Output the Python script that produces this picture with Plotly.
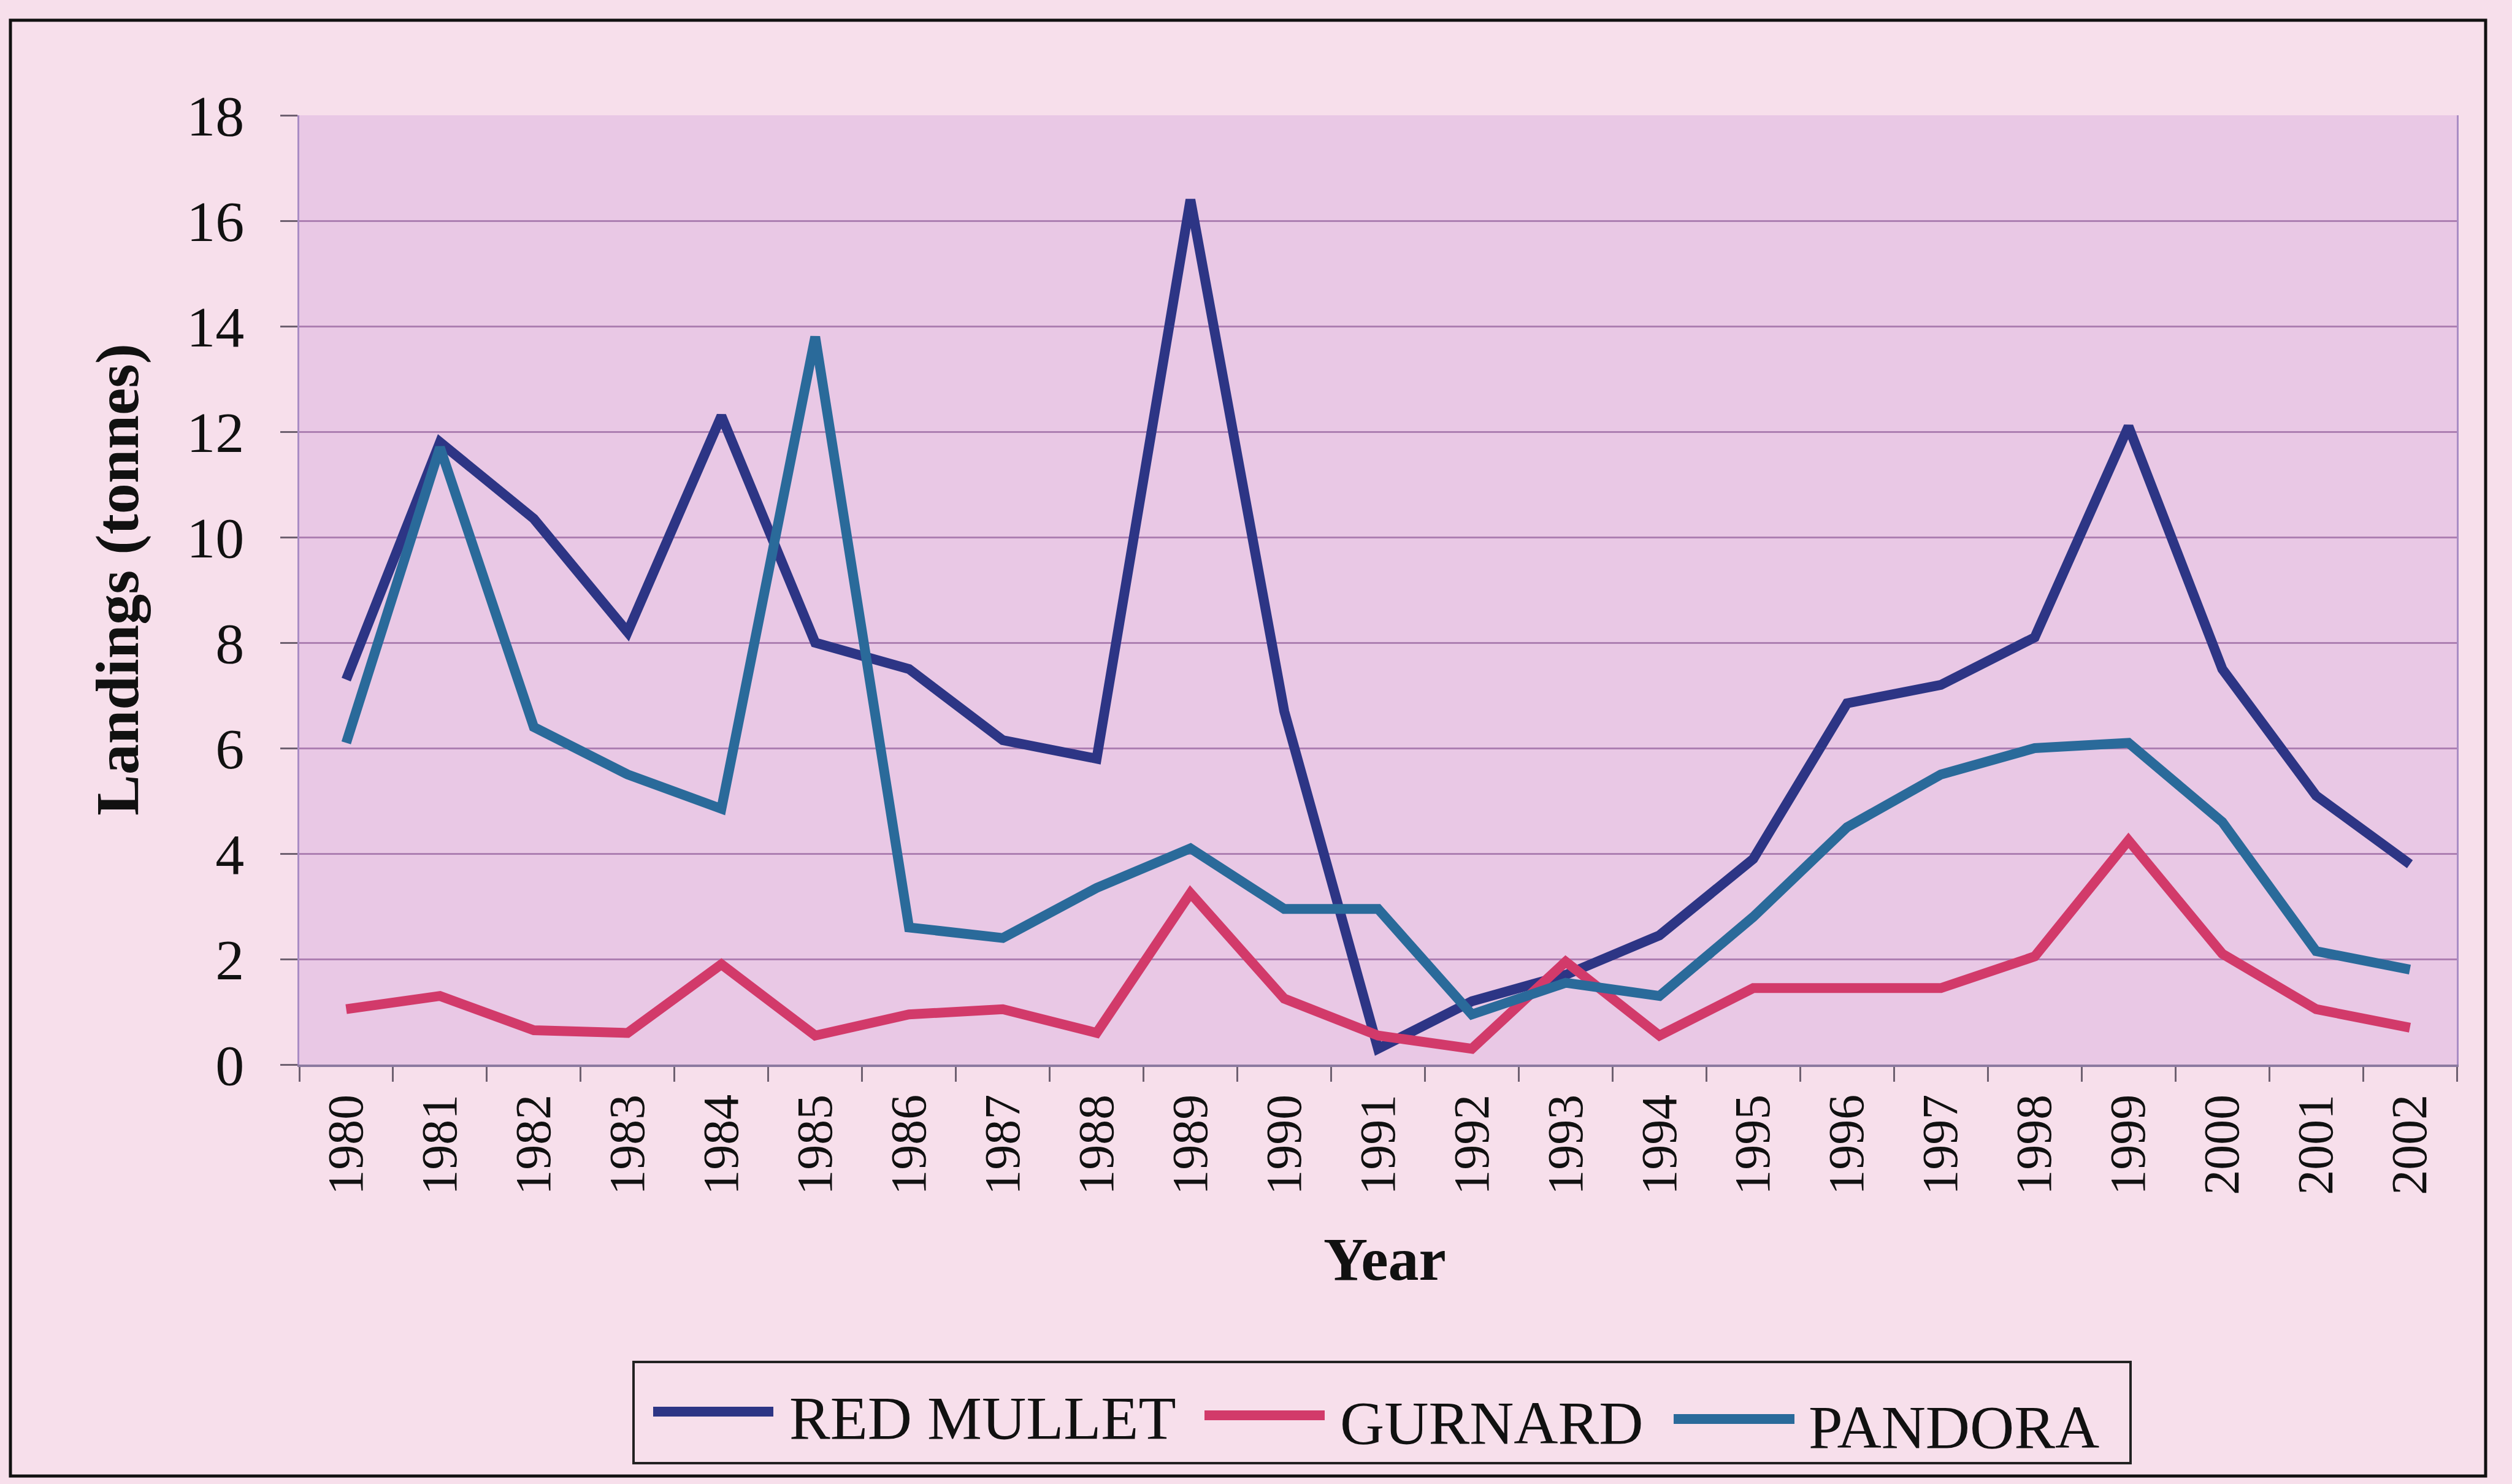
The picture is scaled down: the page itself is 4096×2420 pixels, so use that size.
import plotly.graph_objects as go

# ---------------- data ----------------
years = ["1980", "1981", "1982", "1983", "1984", "1985", "1986", "1987",
         "1988", "1989", "1990", "1991", "1992", "1993", "1994", "1995",
         "1996", "1997", "1998", "1999", "2000", "2001", "2002"]

red_mullet = [7.3, 11.8, 10.35, 8.2, 12.3, 8.0, 7.5, 6.15, 5.8, 16.4, 6.7, 0.3,
              1.2, 1.7, 2.45, 3.9, 6.85, 7.2, 8.1, 12.1, 7.5, 5.1, 3.8]
gurnard = [1.05, 1.3, 0.65, 0.6, 1.9, 0.55, 0.95, 1.05, 0.6, 3.25, 1.25, 0.55,
           0.3, 1.95, 0.55, 1.45, 1.45, 1.45, 2.05, 4.25, 2.1, 1.05, 0.7]
pandora = [6.1, 11.7, 6.4, 5.5, 4.85, 13.8, 2.6, 2.4, 3.35, 4.1, 2.95, 2.95,
           0.95, 1.55, 1.3, 2.8, 4.5, 5.5, 6.0, 6.1, 4.6, 2.15, 1.8]

series_names = ["RED MULLET", "GURNARD", "PANDORA"]
series_values = [red_mullet, gurnard, pandora]
series_colors = ["#2D3585", "#D23A6A", "#2A6A9A"]

y_tick_values = [0, 2, 4, 6, 8, 10, 12, 14, 16, 18]
y_title = "Landings (tonnes)"
x_title = "Year"

# ---------------- layout geometry (px) ----------------
W, H = 4096, 2420
PL, PR, PT, PB = 488, 4006, 188, 1736
FONT = "Liberation Serif, Times New Roman, serif"


def px(x):
    return (x - PL) / (PR - PL)


def py(y):
    return (PB - y) / (PB - PT)


fig = go.Figure()
for name, vals, col in zip(series_names, series_values, series_colors):
    fig.add_trace(go.Scatter(
        x=years, y=vals, name=name, mode="lines",
        line=dict(color=col, width=16),
        showlegend=False,
    ))

shapes = []
annotations = []

# outer frame
shapes.append(dict(type="rect", xref="paper", yref="paper",
                   x0=px(17), x1=px(4053), y0=py(2407), y1=py(33),
                   line=dict(color="#111111", width=5), layer="below"))

# legend box
shapes.append(dict(type="rect", xref="paper", yref="paper",
                   x0=px(1033), x1=px(3474), y0=py(2386), y1=py(2221),
                   line=dict(color="#222222", width=4), layer="above"))

legend_sample_x = [(1065, 1261), (1964, 2160), (2729, 2926)]
legend_sample_y = [2302, 2308, 2314]
legend_text_x = [1285, 2183, 2947]
legend_text_y = [2312, 2320, 2327]
for i, name in enumerate(series_names):
    x0, x1 = legend_sample_x[i]
    shapes.append(dict(type="line", xref="paper", yref="paper",
                       x0=px(x0), x1=px(x1), y0=py(legend_sample_y[i]),
                       y1=py(legend_sample_y[i]),
                       line=dict(color=series_colors[i], width=16)))
    annotations.append(dict(text=name, xref="paper", yref="paper",
                            x=px(legend_text_x[i]), y=py(legend_text_y[i]),
                            xanchor="left", yanchor="middle", showarrow=False,
                            font=dict(family=FONT, size=100, color="#111111")))

# axis titles
annotations.append(dict(text="<b>%s</b>" % y_title, xref="paper", yref="paper",
                        x=px(191), y=py(945), textangle=-90,
                        xanchor="center", yanchor="middle", showarrow=False,
                        font=dict(family=FONT, size=100, color="#111111")))
annotations.append(dict(text="<b>%s</b>" % x_title, xref="paper", yref="paper",
                        x=px(2258), y=py(2053),
                        xanchor="center", yanchor="middle", showarrow=False,
                        font=dict(family=FONT, size=100, color="#111111")))

fig.update_layout(
    width=W, height=H,
    margin=dict(l=PL, r=W - PR, t=PT, b=H - PB, autoexpand=False),
    paper_bgcolor="#F7DFEB",
    plot_bgcolor="#E9C8E5",
    shapes=shapes,
    annotations=annotations,
    showlegend=False,
    xaxis=dict(
        type="category",
        categoryorder="array", categoryarray=years,
        tickson="boundaries",
        ticks="outside", ticklen=24, tickwidth=3, tickcolor="#6E6070",
        tickangle=-90,
        tickfont=dict(family=FONT, size=82, color="#111111"),
        ticklabelstandoff=12,
        showgrid=False, zeroline=False,
        showline=True, linecolor="#8C7AA0", linewidth=4,
        range=[-0.5, len(years) - 0.5],
    ),
    yaxis=dict(
        range=[0, 18],
        tickmode="array", tickvals=y_tick_values,
        ticks="outside", ticklen=28, tickwidth=3, tickcolor="#6E6070",
        tickfont=dict(family=FONT, size=94, color="#111111"),
        ticklabelstandoff=40,
        showgrid=True, gridcolor="#AD7FB2", gridwidth=3,
        zeroline=False,
        showline=True, linecolor="#A98CC4", linewidth=3, mirror=True,
    ),
)

fig.write_html("out.html",
               config={"displayModeBar": False},
               post_script="document.body.style.margin='0';document.body.style.padding='0';document.body.style.overflow='hidden';")
